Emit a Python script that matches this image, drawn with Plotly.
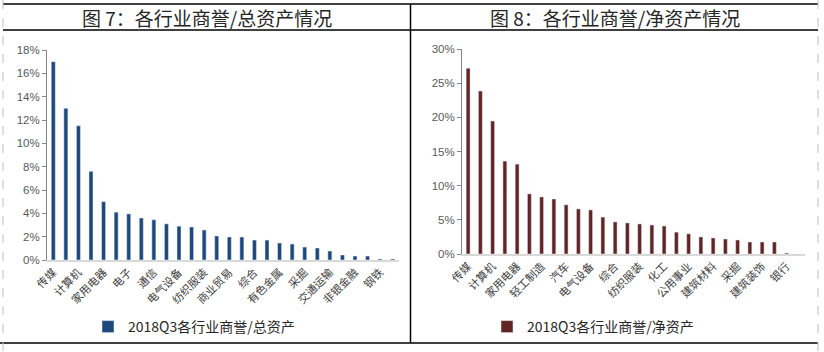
import plotly.graph_objects as go

W, H = 824, 352

# ---- data ----
left_categories = ["传媒", "休闲服务", "计算机", "医药生物", "家用电器", "国防军工", "电子", "机械设备",
                   "通信", "汽车", "电气设备", "轻工制造", "纺织服装", "农林牧渔", "商业贸易", "食品饮料",
                   "综合", "公用事业", "有色金属", "化工", "采掘", "建筑材料", "交通运输", "建筑装饰",
                   "非银金融", "房地产", "钢铁", "银行"]
left_values = [17.0, 13.0, 11.5, 7.6, 5.0, 4.1, 3.95, 3.6, 3.45, 3.1, 2.9, 2.83, 2.57, 2.06,
               1.97, 1.97, 1.71, 1.71, 1.46, 1.37, 1.11, 1.03, 0.77, 0.43, 0.34, 0.34, 0.09, 0.09]
left_ticklabels = ["传媒", "计算机", "家用电器", "电子", "通信", "电气设备", "纺织服装", "商业贸易",
                   "综合", "有色金属", "采掘", "交通运输", "非银金融", "钢铁"]

right_categories = ["传媒", "休闲服务", "计算机", "医药生物", "家用电器", "通信", "轻工制造", "电子",
                    "汽车", "国防军工", "电气设备", "机械设备", "综合", "商业贸易", "纺织服装", "农林牧渔",
                    "化工", "有色金属", "公用事业", "食品饮料", "建筑材料", "交通运输", "采掘", "钢铁",
                    "建筑装饰", "非银金融", "银行", "房地产"]
right_values = [27.2, 23.85, 19.45, 13.6, 13.15, 8.8, 8.35, 8.05, 7.2, 6.6, 6.45, 5.4, 4.7, 4.55,
                4.4, 4.25, 4.1, 3.2, 2.95, 2.5, 2.35, 2.2, 2.05, 1.76, 1.76, 1.76, 0.15, 0.0]
right_ticklabels = ["传媒", "计算机", "家用电器", "轻工制造", "汽车", "电气设备", "综合", "纺织服装",
                    "化工", "公用事业", "建筑材料", "采掘", "建筑装饰", "银行"]

left_title = "图 7：各行业商誉/总资产情况"
right_title = "图 8：各行业商誉/净资产情况"
left_series = "2018Q3各行业商誉/总资产"
right_series = "2018Q3各行业商誉/净资产"

LEFT_COLOR = "#1F497D"
RIGHT_COLOR = "#632523"
CJK = "Noto Sans CJK SC"
LAT = "Liberation Sans"


def px(x):
    return x / W


def py(y):
    return 1 - y / H


fig = go.Figure()
fig.add_trace(go.Bar(x=left_categories, y=left_values, marker_color=LEFT_COLOR,
                     name=left_series, xaxis="x", yaxis="y", legend="legend"))
fig.add_trace(go.Bar(x=right_categories, y=right_values, marker_color=RIGHT_COLOR,
                     name=right_series, xaxis="x2", yaxis="y2", legend="legend2"))

xcommon = dict(type="category", tickangle=-45, showgrid=False, zeroline=False, automargin=False,
               showline=True, linecolor="#D9D9D9", linewidth=1.5, ticks="",
               tickfont=dict(family=CJK, size=11, color="#404040"), fixedrange=True)
ycommon = dict(showgrid=False, zeroline=False, showline=True, linecolor="#868686", linewidth=1,
               automargin=False, ticks="outside", ticklen=4, tickcolor="#868686", ticksuffix="%",
               tickfont=dict(family=LAT, size=11.5, color="#595959"), fixedrange=True)

fig.update_layout(
    width=W, height=H, margin=dict(l=0, r=0, t=0, b=0, autoexpand=False),
    paper_bgcolor="white", plot_bgcolor="white",
    bargap=0.68, showlegend=True,
    xaxis=dict(domain=[px(47), px(399)], anchor="y", tickmode="array",
               tickvals=left_ticklabels, ticktext=left_ticklabels,
               categoryorder="array", categoryarray=left_categories, **xcommon),
    yaxis=dict(domain=[py(260), py(50)], anchor="x", range=[0, 18], dtick=2, **ycommon),
    xaxis2=dict(domain=[px(462), px(805)], anchor="y2", tickmode="array",
                tickvals=right_ticklabels, ticktext=right_ticklabels,
                categoryorder="array", categoryarray=right_categories, **xcommon),
    yaxis2=dict(domain=[py(254), py(49)], anchor="x2", range=[0, 30], dtick=5, **ycommon),
    legend=dict(x=px(88), y=py(327), xanchor="left", yanchor="middle",
                font=dict(family=CJK, size=14, color="#262626"), bgcolor="rgba(0,0,0,0)",
                itemwidth=30),
    legend2=dict(x=px(487), y=py(327), xanchor="left", yanchor="middle",
                 font=dict(family=CJK, size=14, color="#262626"), bgcolor="rgba(0,0,0,0)",
                 itemwidth=30),
)

# titles
fig.add_annotation(text=left_title, x=px(207), y=py(17), xref="paper", yref="paper",
                   xanchor="center", yanchor="middle",
                   showarrow=False, font=dict(family=CJK, size=19, color="#262626"))
fig.add_annotation(text=right_title, x=px(615), y=py(17), xref="paper", yref="paper",
                   xanchor="center", yanchor="middle",
                   showarrow=False, font=dict(family=CJK, size=19, color="#262626"))

# frame lines
line_black = dict(color="black", width=1.5)
line_dash = dict(color="#BFBFBF", width=1, dash="dash")
shapes = [
    dict(type="line", x0=px(3), x1=px(818), y0=py(4), y1=py(4), line=line_black),
    dict(type="line", x0=px(3), x1=px(818), y0=py(30), y1=py(30), line=line_black),
    dict(type="line", x0=px(0), x1=px(818), y0=py(343), y1=py(343), line=line_black),
    dict(type="line", x0=px(410.5), x1=px(410.5), y0=py(4), y1=py(343), line=line_black),
    dict(type="line", x0=px(3), x1=px(3), y0=py(0), y1=py(352), line=line_dash),
    dict(type="line", x0=px(818), x1=px(818), y0=py(0), y1=py(352), line=line_dash),
]
for s in shapes:
    fig.add_shape(xref="paper", yref="paper", **s)

fig.write_html("out.html")
